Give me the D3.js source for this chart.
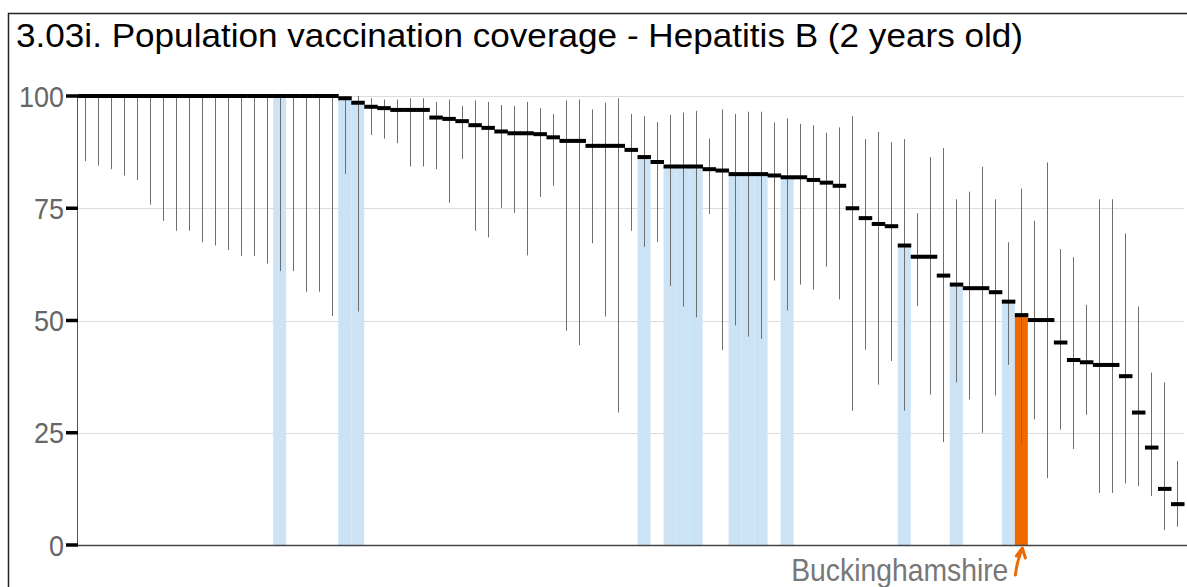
<!DOCTYPE html>
<html>
<head>
<meta charset="utf-8">
<script src="https://cdn.jsdelivr.net/npm/d3@7"></script>
<style>
  body { margin: 0; background: #fff; }
  svg { display: block; font-family: "Liberation Sans", Arial, sans-serif; }
</style>
</head>
<body>
<svg id="chart"></svg>
<script>
// Chart data: areas sorted by coverage (%), with confidence limits
const title = "3.03i. Population vaccination coverage - Hepatitis B (2 years old)";
const highlightName = "Buckinghamshire";
const highlightIndex = 72;
const shadedIndices = [15, 20, 21, 43, 45, 46, 47, 50, 51, 52, 54, 63, 67, 71];
const yTicks = [0, 25, 50, 75, 100];

const values = [
  100, 100, 100, 100, 100, 100, 100, 100, 100, 100,
  100, 100, 100, 100, 100, 100, 100, 100, 100, 100,
  99.5, 98.5, 97.6, 97.3, 96.9, 96.9, 96.9, 95.2, 94.9, 94.4,
  93.5, 92.9, 92.1, 91.7, 91.7, 91.5, 90.8, 90.0, 90.0, 88.9,
  88.9, 88.9, 88.0, 86.4, 85.3, 84.3, 84.3, 84.3, 83.7, 83.4,
  82.6, 82.6, 82.6, 82.3, 81.9, 81.9, 81.3, 80.7, 80.0, 75.0,
  72.8, 71.5, 71.0, 66.7, 64.2, 64.2, 60.0, 58.0, 57.2, 57.2,
  56.3, 54.2, 51.2, 50.1, 50.1, 45.1, 41.2, 40.7, 40.1, 40.1,
  37.6, 29.5, 21.7, 12.5, 9.1
];

const lower = [
  85.5, 84.5, 83.7, 82.3, 81.3, 75.8, 72.2, 70.0, 70.0, 67.4,
  66.7, 65.7, 64.4, 64.4, 62.7, 61.0, 61.0, 56.4, 56.4, 51.0,
  82.6, 52.0, 91.3, 90.5, 89.5, 84.3, 84.3, 83.7, 76.2, 86.0,
  70.0, 68.5, 75.1, 74.0, 64.5, 77.5, 80.0, 47.7, 44.5, 67.2,
  50.9, 29.5, 70.0, 66.4, 67.5, 57.7, 53.1, 50.7, 73.7, 43.4,
  48.9, 46.4, 45.9, 58.9, 52.2, 58.0, 56.9, 62.0, 54.7, 29.9,
  43.5, 35.7, 41.0, 29.9, 53.2, 33.5, 22.9, 36.2, 32.4, 25.0,
  33.3, 40.1, 22.4, 28.0, 14.9, 25.7, 21.4, 29.0, 11.6, 11.6,
  13.7, 13.1, 10.9, 3.3, 4.1
];

const upper = [
  100, 100, 100, 100, 100, 100, 100, 100, 100, 100,
  100, 100, 100, 100, 100, 100, 100, 100, 100, 100,
  100, 100, 99.5, 99.2, 99.2, 99.5, 99.5, 98.7, 99.2, 97.8,
  99.0, 98.7, 98.0, 97.8, 98.7, 97.3, 96.0, 99.0, 99.2, 97.0,
  98.5, 99.5, 96.0, 95.5, 94.2, 95.8, 96.3, 96.7, 90.5, 97.0,
  96.0, 96.5, 96.5, 94.1, 95.0, 93.8, 93.5, 91.8, 93.0, 95.5,
  90.4, 92.0, 89.7, 90.4, 73.9, 86.4, 88.4, 77.0, 78.7, 84.2,
  77.0, 67.4, 79.4, 72.2, 85.2, 65.9, 64.1, 53.5, 77.0, 77.0,
  69.4, 53.1, 38.4, 36.2, 18.7
];

const width = 1187;
const height = 587;
const margin = { top: 96, right: 3, bottom: 42, left: 78 };

const svg = d3.select("#chart").attr("width", width).attr("height", height);

// outer frame (only left and top edges fall inside the picture)
svg.append("rect")
  .attr("x", 8.5).attr("y", 13.5)
  .attr("width", width + 20).attr("height", height + 20)
  .attr("fill", "none").attr("stroke", "#222").attr("stroke-width", 1.5);

const rows = values.map((v, i) => ({
  i: i,
  value: v,
  lo: lower[i],
  hi: upper[i],
  shaded: shadedIndices.includes(i),
  highlight: i === highlightIndex
}));

const x = d3.scaleBand()
  .domain(rows.map((d) => d.i))
  .range([margin.left, width - margin.right])
  .padding(0);

const y = d3.scaleLinear()
  .domain([0, 100])
  .range([height - margin.bottom, margin.top]);

// title
svg.append("text")
  .attr("x", 16).attr("y", 47)
  .attr("font-size", 34)
  .attr("textLength", 1007)
  .attr("lengthAdjust", "spacingAndGlyphs")
  .attr("fill", "#000")
  .text(title);

// gridlines
svg.append("g")
  .selectAll("line")
  .data(yTicks.filter((t) => t > 0))
  .join("line")
  .attr("x1", margin.left).attr("x2", width - margin.right)
  .attr("y1", (d) => Math.round(y(d)) + 0.5).attr("y2", (d) => Math.round(y(d)) + 0.5)
  .attr("stroke", "#dcdcdc").attr("stroke-width", 1);

// shaded bars and highlighted bar
svg.append("g")
  .selectAll("rect")
  .data(rows.filter((d) => d.shaded || d.highlight))
  .join("rect")
  .attr("x", (d) => x(d.i))
  .attr("width", x.bandwidth())
  .attr("y", (d) => y(d.value))
  .attr("height", (d) => y(0) - y(d.value))
  .attr("fill", (d) => (d.highlight ? "#ee6a00" : "#cce2f5"));

// confidence interval lines
svg.append("g")
  .selectAll("line")
  .data(rows)
  .join("line")
  .attr("x1", (d) => Math.round(x(d.i) + x.bandwidth() / 2) + 0.5)
  .attr("x2", (d) => Math.round(x(d.i) + x.bandwidth() / 2) + 0.5)
  .attr("y1", (d) => y(d.hi))
  .attr("y2", (d) => y(d.lo))
  .attr("stroke", "#6e6e6e").attr("stroke-width", 1);

// value markers
svg.append("g")
  .selectAll("rect")
  .data(rows)
  .join("rect")
  .attr("x", (d) => x(d.i))
  .attr("width", x.bandwidth() + 0.5)
  .attr("y", (d) => y(d.value) - 2)
  .attr("height", 4)
  .attr("fill", "#000");

// y axis
const yAxis = svg.append("g").attr("transform", `translate(${margin.left},0)`);
yAxis.append("line")
  .attr("x1", -0.5).attr("x2", -0.5)
  .attr("y1", y(100)).attr("y2", y(0))
  .attr("stroke", "#555").attr("stroke-width", 1);
yAxis.selectAll(".tick")
  .data(yTicks)
  .join("line")
  .attr("x1", -12).attr("x2", 0)
  .attr("y1", (d) => y(d)).attr("y2", (d) => y(d))
  .attr("stroke", "#000").attr("stroke-width", 3.5);
yAxis.selectAll("text")
  .data(yTicks)
  .join("text")
  .attr("transform", (d) => `translate(-14,${y(d) + 10.5}) scale(0.9,1)`)
  .attr("text-anchor", "end")
  .attr("font-size", 30)
  .attr("fill", "#666")
  .text((d) => d);

// x axis baseline
svg.append("line")
  .attr("x1", margin.left).attr("x2", width)
  .attr("y1", y(0) + 0.5).attr("y2", y(0) + 0.5)
  .attr("stroke", "#444").attr("stroke-width", 1.5);

// highlighted area label and arrow
const hx = x(highlightIndex) + x.bandwidth() / 2;
svg.append("text")
  .attr("transform", `translate(${hx - 13},${y(0) + 36}) scale(0.885,1)`)
  .attr("text-anchor", "end")
  .attr("font-size", 32)
  .attr("fill", "#777")
  .text(highlightName);

svg.append("path")
  .attr("d", `M${hx - 6},${y(0) + 30} Q${hx - 4},${y(0) + 14} ${hx + 1},${y(0) + 4}`)
  .attr("fill", "none").attr("stroke", "#ee6a00").attr("stroke-width", 3)
  .attr("stroke-linecap", "round");
svg.append("path")
  .attr("d", `M${hx - 5},${y(0) + 11} L${hx + 1},${y(0) + 3} L${hx + 4},${y(0) + 13}`)
  .attr("fill", "none").attr("stroke", "#ee6a00").attr("stroke-width", 3)
  .attr("stroke-linecap", "round").attr("stroke-linejoin", "round");
</script>
</body>
</html>
